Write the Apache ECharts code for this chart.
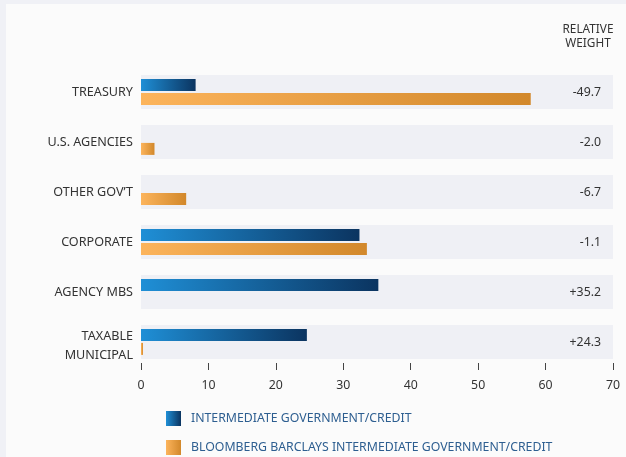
<!DOCTYPE html>
<html>
<head>
<meta charset="utf-8">
<script src="https://cdn.jsdelivr.net/npm/echarts@6/dist/echarts.min.js"></script>
<style>
html,body{margin:0;padding:0;background:#f0f1f6;}
#panel{position:absolute;left:6px;top:4px;width:620px;height:453px;background:#fbfbfb;}
#main{position:absolute;left:0;top:0;width:626px;height:457px;}
</style>
</head>
<body>
<div id="panel"></div>
<div id="main"></div>
<script>
var categories = ['TREASURY', 'U.S. AGENCIES', 'OTHER GOV\u2019T', 'CORPORATE', 'AGENCY MBS', 'TAXABLE\nMUNICIPAL'];
var fundValues = [8.1, 0, 0, 32.4, 35.2, 24.6];
var benchValues = [57.8, 2.0, 6.7, 33.5, 0, 0.3];
var relWeight = ['-49.7', '-2.0', '-6.7', '-1.1', '+35.2', '+24.3'];
var bandValues = [70, 70, 70, 70, 70, 70];
var seriesNames = ['INTERMEDIATE GOVERNMENT/CREDIT', 'BLOOMBERG BARCLAYS INTERMEDIATE GOVERNMENT/CREDIT'];
var xTicks = {min: 0, max: 70, interval: 10};

var FONT = 'Noto Sans';
var chart = echarts.init(document.getElementById('main'), null, {renderer: 'canvas'});

function grad(c1, c2) {
  return new echarts.graphic.LinearGradient(0, 0, 1, 0, [{offset: 0, color: c1}, {offset: 1, color: c2}]);
}

var catStyle = {color: '#333', fontSize: 12.6, fontFamily: FONT, lineHeight: 19, align: 'right'};

var option = {
  backgroundColor: 'transparent',
  animation: false,
  textStyle: {fontFamily: FONT},
  title: {
    text: 'RELATIVE\nWEIGHT',
    left: 588, top: 23, padding: 0,
    textAlign: 'center',
    textStyle: {fontFamily: FONT, fontSize: 11.8, fontWeight: 'normal', color: '#333', lineHeight: 14, align: 'center'}
  },
  legend: {
    orient: 'vertical',
    left: 166, top: 411, padding: 0,
    itemWidth: 15, itemHeight: 15, itemGap: 14,
    icon: 'rect',
    data: seriesNames,
    textStyle: {fontFamily: FONT, fontSize: 12.3, color: '#2d5e90', padding: [2, 0, 0, 5]}
  },
  grid: {left: 141, right: 13, top: 67, height: 300, containLabel: false},
  xAxis: {
    type: 'value', min: xTicks.min, max: xTicks.max, interval: xTicks.interval,
    offset: -4,
    axisLine: {show: false},
    axisTick: {show: true, length: 7, lineStyle: {color: '#444', width: 1}},
    splitLine: {show: false},
    axisLabel: {color: '#333', fontSize: 12.3, fontFamily: FONT, margin: 16}
  },
  yAxis: [{
    type: 'category', data: categories, inverse: true,
    axisLine: {show: false}, axisTick: {show: false},
    axisLabel: {
      color: '#333', fontSize: 12.6, fontFamily: FONT, margin: 8, lineHeight: 19, align: 'right',
      formatter: function (v) {
        var parts = v.split('\n');
        if (parts.length === 1) return v;
        return '{a|' + parts[0] + '}\n{b|' + parts[1] + '}';
      },
      rich: {
        a: Object.assign({padding: [8, 0, 0, 0]}, catStyle),
        b: Object.assign({padding: [8, 0, 0, 0]}, catStyle)
      }
    }
  }, {
    type: 'category', data: categories, inverse: true, show: false
  }],
  series: [{
    type: 'bar', name: 'band', yAxisIndex: 1, data: bandValues,
    barWidth: 34, silent: true, z: 0,
    itemStyle: {color: '#eff0f5'},
    label: {
      show: true, position: 'insideRight', distance: 12,
      color: '#333', fontSize: 12.3, fontFamily: FONT,
      formatter: function (p) { return relWeight[p.dataIndex]; }
    }
  }, {
    type: 'bar', name: seriesNames[0], yAxisIndex: 0, data: fundValues,
    barWidth: 12, barGap: '15%', z: 2,
    itemStyle: {color: grad('#1f8fd6', '#0b3460')}
  }, {
    type: 'bar', name: seriesNames[1], yAxisIndex: 0, data: benchValues,
    barWidth: 12, barGap: '15%', z: 2,
    itemStyle: {color: grad('#fcb45c', '#d2882b')}
  }]
};
chart.setOption(option);
</script>
</body>
</html>
